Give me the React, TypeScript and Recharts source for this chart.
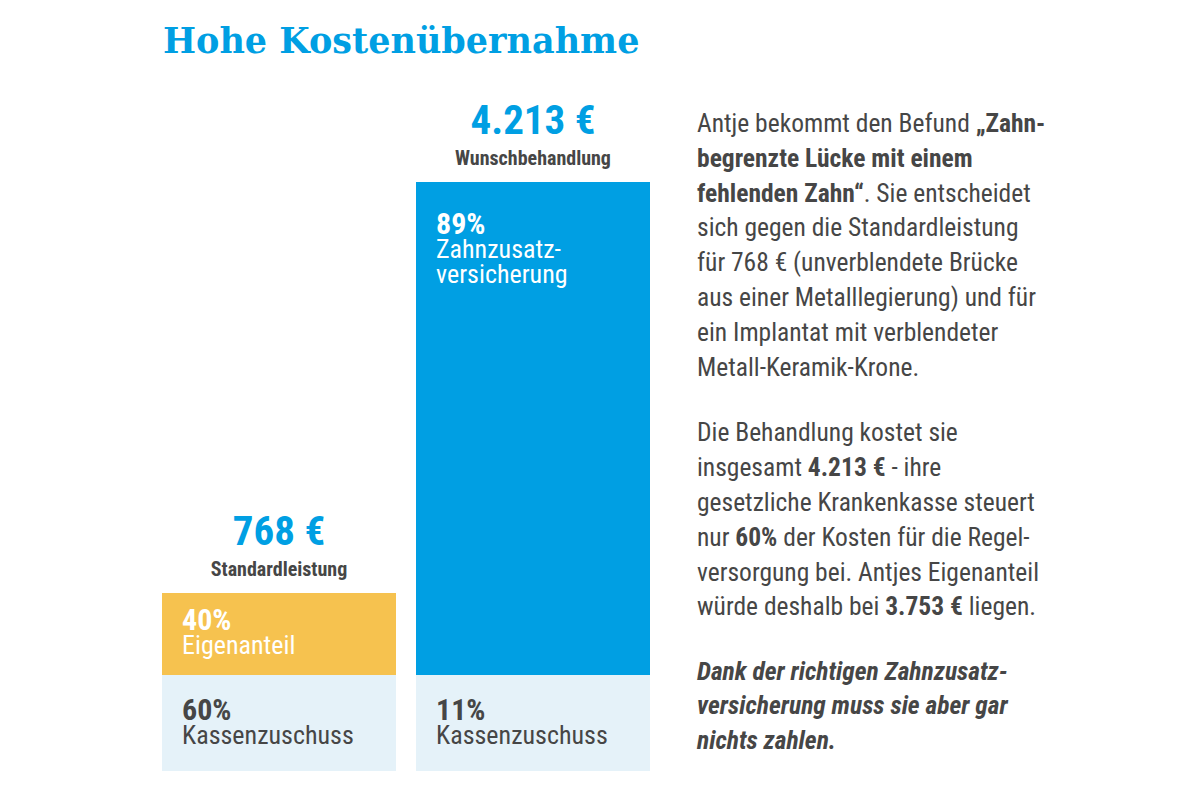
import React from "react";
import { BarChart, Bar, XAxis, YAxis, LabelList } from "recharts";

const categories = ["Standardleistung", "Wunschbehandlung"];
const totals = ["768 €", "4.213 €"];
// segment heights as drawn in the source graphic (the source is not to scale)
const kassenHeights = [96, 96];
const eigenHeights = [82, 0];
const zusatzHeights = [0, 493];
const kassenPct = ["60%", "11%"];
const eigenPct = ["40%", ""];
const zusatzPct = ["", "89%"];
const kassenLabel = [["Kassenzuschuss"], ["Kassenzuschuss"]];
const eigenLabel = [["Eigenanteil"], []];
const zusatzLabel = [[], ["Zahnzusatz-", "versicherung"]];

const data = categories.map((c, i) => ({
  name: c,
  kassen: kassenHeights[i],
  eigen: eigenHeights[i],
  zusatz: zusatzHeights[i],
}));

const FONT = "'Roboto Condensed', 'Liberation Sans Narrow', sans-serif";
const BLUE = "#009FE3";
const YELLOW = "#F6C24F";
const LIGHT = "#E5F2F9";
const DARK = "#464646";

function segLabel(pcts: string[], lines: string[][], color: string, off: number) {
  return (p: any) => {
    const i = categories.indexOf(p.value);
    if (i < 0 || !p.height || Math.abs(p.height) < 1) return null;
    const x = p.x + 20;
    const y = p.y + off;
    return (
      <g>
        <text x={x} y={y} fill={color} fontFamily={FONT} fontWeight={700} fontSize={30}>{pcts[i]}</text>
        {lines[i].map((l, k) => (
          <text key={k} x={x} y={y + 24 + k * 25} fill={color} fontFamily={FONT} fontSize={26}>{l}</text>
        ))}
      </g>
    );
  };
}

function totalLabel(p: any) {
  const i = categories.indexOf(p.value);
  if (i < 0 || !p.height || Math.abs(p.height) < 1) return null;
  const cx = p.x + p.width / 2;
  return (
    <g>
      <text x={cx} y={p.y - 48} textAnchor="middle" fill={BLUE} fontFamily={FONT} fontWeight={700} fontSize={41}>{totals[i]}</text>
      <text x={cx} y={p.y - 17} textAnchor="middle" fill={DARK} fontFamily={FONT} fontWeight={700} fontSize={20}>{categories[i]}</text>
    </g>
  );
}

const P: React.CSSProperties = { margin: 0 };

export default function App() {
  return (
    <div style={{ position: "absolute", left: 0, top: 0, width: 1200, height: 800, background: "#fff" }}>
      <div style={{ position: "absolute", left: 163, top: 20, lineHeight: "41px", fontFamily: "'DejaVu Serif', serif", fontWeight: 700, fontSize: 35, color: BLUE, whiteSpace: "nowrap" }}>
        Hohe Kostenübernahme
      </div>
      <BarChart width={1200} height={800} data={data} margin={{ top: 171, right: 540, bottom: 29, left: 152 }} barSize={234} barCategoryGap={0}>
        <XAxis dataKey="name" hide />
        <YAxis hide domain={[0, 600]} />
        <Bar dataKey="kassen" stackId="a" fill={LIGHT} isAnimationActive={false}>
          <LabelList dataKey="name" content={segLabel(kassenPct, kassenLabel, DARK, 45)} />
        </Bar>
        <Bar dataKey="eigen" stackId="a" fill={YELLOW} isAnimationActive={false}>
          <LabelList dataKey="name" content={segLabel(eigenPct, eigenLabel, "#fff", 37)} />
          <LabelList dataKey="name" content={totalLabel} />
        </Bar>
        <Bar dataKey="zusatz" stackId="a" fill={BLUE} isAnimationActive={false}>
          <LabelList dataKey="name" content={segLabel(zusatzPct, zusatzLabel, "#fff", 52)} />
          <LabelList dataKey="name" content={totalLabel} />
        </Bar>
      </BarChart>
      <div style={{ position: "absolute", left: 697, top: 106, width: 490, fontFamily: FONT, fontSize: 25.5, lineHeight: "34.8px", color: DARK, whiteSpace: "nowrap" }}>
        <p style={P}>Antje bekommt den Befund <b>„Zahn-<br />begrenzte Lücke mit einem<br />fehlenden Zahn“</b>. Sie entscheidet<br />sich gegen die Standardleistung<br />für 768 € (unverblendete Brücke<br />aus einer Metalllegierung) und für<br />ein Implantat mit verblendeter<br />Metall-Keramik-Krone.</p>
        <p style={{ ...P, marginTop: 31 }}>Die Behandlung kostet sie<br />insgesamt <b>4.213 €</b> - ihre<br />gesetzliche Krankenkasse steuert<br />nur <b>60%</b> der Kosten für die Regel-<br />versorgung bei. Antjes Eigenanteil<br />würde deshalb bei <b>3.753 €</b> liegen.</p>
        <p style={{ ...P, marginTop: 29.5, fontWeight: 700, fontStyle: "italic" }}>Dank der richtigen Zahnzusatz-<br />versicherung muss sie aber gar<br />nichts zahlen.</p>
      </div>
    </div>
  );
}
